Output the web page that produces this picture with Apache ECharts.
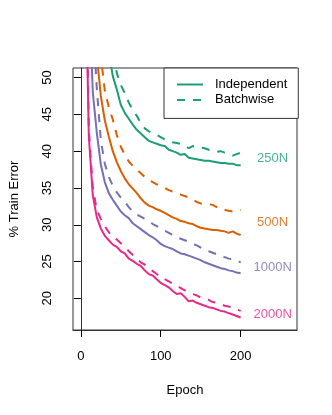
<!DOCTYPE html>
<html>
<head>
<meta charset="utf-8">
<script src="https://cdn.jsdelivr.net/npm/echarts@6/dist/echarts.min.js"></script>
<style>
  html, body { margin: 0; padding: 0; background: #fff; }
  #chart { width: 332px; height: 415px; }
</style>
</head>
<body>
<div id="chart"></div>
<script>
// epochs shared by all curves
var epochs = [5, 10, 15, 20, 25, 30, 35, 40, 45, 50, 55, 60, 65, 70, 75, 80, 85, 90, 95, 100,
  105, 110, 115, 120, 125, 130, 135, 140, 145, 150, 155, 160, 165, 170, 175, 180, 185, 190, 195, 200]

var indep250 = [130, 110, 95, 80, 68, 60, 53.5, 50.2, 48.4, 46.3, 45.2, 44.4, 43.6, 42.9, 42.4, 41.9, 41.4, 41.2, 41.0, 40.8,
  40.7, 40.2, 40.0, 39.8, 39.5, 39.6, 39.1, 39.0, 38.9, 38.8, 38.7, 38.7, 38.6, 38.5, 38.4, 38.4, 38.3, 38.3, 38.1, 38.1]
var batch250 = [140, 120, 105, 90, 78, 68, 60, 54, 50.6, 49.0, 47.9, 46.6, 45.6, 44.8, 43.8, 43.1, 42.7, 42.4, 42.2, 41.9,
  41.6, 41.4, 41.2, 41.1, 41.0, 40.8, 40.4, 40.7, 40.5, 40.5, 40.4, 40.2, 40.0, 39.9, 40.0, 39.8, 39.7, 39.4, 39.6, 39.8]
var indep500 = [100, 85, 68, 53, 47.5, 44.2, 42.0, 40.0, 38.5, 37.3, 36.3, 35.5, 34.9, 34.3, 33.6, 33.0, 32.6, 32.4, 32.1, 31.9,
  31.6, 31.3, 31.0, 30.8, 30.5, 30.4, 30.2, 30.1, 29.8, 29.6, 29.5, 29.4, 29.3, 29.3, 29.2, 29.1, 28.9, 29.1, 28.8, 28.6]
var batch500 = [110, 90, 75, 62, 53, 48.2, 46.0, 44.3, 42.2, 40.6, 39.5, 38.6, 38.0, 37.5, 37.0, 36.5, 36.1, 35.8, 35.5, 35.2,
  35.0, 34.7, 34.5, 34.3, 34.1, 33.9, 33.7, 33.4, 33.1, 32.9, 32.8, 32.8, 32.7, 32.4, 32.1, 32.0, 31.9, 31.8, 31.8, 32.0]
var indep1000 = [90, 62, 48, 42.5, 38.2, 35.8, 34.3, 33.4, 32.6, 31.8, 31.3, 30.9, 30.2, 29.8, 29.4, 29.0, 28.6, 28.3, 27.9, 27.4,
  27.1, 26.9, 26.7, 26.4, 26.1, 26.0, 25.8, 25.6, 25.4, 25.2, 24.9, 24.7, 24.5, 24.3, 24.1, 24.0, 23.8, 23.7, 23.5, 23.4]
var batch1000 = [95, 75, 58, 48.5, 41.5, 38.3, 36.5, 35.3, 34.4, 33.7, 33.1, 32.4, 31.8, 31.4, 31.1, 30.8, 30.5, 30.1, 29.8, 29.5,
  29.2, 28.9, 28.6, 28.3, 28.1, 27.9, 27.7, 27.4, 27.2, 26.9, 26.6, 26.4, 26.2, 26.0, 25.8, 25.6, 25.4, 25.3, 25.1, 24.9]
var indep2000 = [70, 42, 34, 31, 29.5, 28.5, 27.9, 27.3, 27.0, 26.4, 26.1, 25.4, 25.1, 24.7, 24.4, 23.8, 23.3, 23.1, 22.6, 22.1,
  21.8, 21.5, 21.0, 20.6, 20.7, 20.2, 19.6, 19.7, 19.4, 19.2, 19.0, 18.8, 18.7, 18.5, 18.3, 18.2, 18.0, 17.8, 17.6, 17.4]
var batch2000 = [75, 43, 35, 32, 30.8, 29.8, 29.0, 28.3, 28.0, 27.5, 27.0, 26.4, 25.9, 25.4, 24.9, 24.6, 24.1, 23.7, 23.3, 22.8,
  22.6, 22.3, 22.0, 21.7, 21.4, 21.1, 20.9, 20.6, 20.4, 20.1, 20.0, 19.8, 19.5, 19.4, 19.2, 19.0, 18.9, 18.7, 18.5, 18.3]

var xTicks = [0, 100, 200]
var yTicks = [20, 25, 30, 35, 40, 45, 50]

var groupNames = ['250N', '500N', '1000N', '2000N']
var labelX = 240
var labelY = [38.95, 30.3, 24.15, 17.85]

var colors = ['#1B9E77', '#D95F02', '#7570B3', '#E7298A']
var font = 'Liberation Sans, Arial, Helvetica, sans-serif'

function pairs (ys) {
  return epochs.map(function (e, i) { return [e, ys[i]] })
}

function curve (name, ys, color, dashed) {
  return {
    name: name,
    type: 'line',
    data: pairs(ys),
    symbol: 'none',
    clip: true,
    lineStyle: {color: color, width: 2, type: dashed ? [8, 8] : 'solid'},
    itemStyle: {color: color}
  }
}

var series = [
  curve('Independent', indep250, colors[0], false),
  curve('Batchwise', batch250, colors[0], true),
  curve('500N Independent', indep500, colors[1], false),
  curve('500N Batchwise', batch500, colors[1], true),
  curve('1000N Independent', indep1000, colors[2], false),
  curve('1000N Batchwise', batch1000, colors[2], true),
  curve('2000N Independent', indep2000, colors[3], false),
  curve('2000N Batchwise', batch2000, colors[3], true)
]

groupNames.forEach(function (g, i) {
  series.push({
    name: g,
    type: 'scatter',
    symbolSize: 1,
    itemStyle: {color: 'rgba(0,0,0,0)'},
    data: [{value: [labelX, labelY[i]], name: g}],
    label: {
      show: true,
      position: 'inside',
      formatter: '{b}',
      color: colors[i],
      fontSize: 13,
      fontFamily: font
    },
    silent: true
  })
})

var chart = echarts.init(document.getElementById('chart'))
chart.setOption({
  animation: false,
  backgroundColor: '#fff',
  grid: {left: 68, top: 68, right: 35, bottom: 85, show: true, borderColor: '#333', borderWidth: 1},
  legend: {
    data: ['Independent', 'Batchwise'],
    orient: 'vertical',
    left: 164,
    top: 68,
    padding: [10, 11, 12, 12],
    itemWidth: 26,
    itemHeight: 14,
    itemGap: 2.4,
    borderColor: '#333',
    borderWidth: 1,
    backgroundColor: '#fff',
    itemStyle: {opacity: 0},
    textStyle: {fontSize: 13, fontFamily: font, color: '#000', padding: [0, 0, 0, 7]}
  },
  xAxis: {
    type: 'value',
    min: -9.8,
    max: 270.5,
    name: 'Epoch',
    nameLocation: 'middle',
    nameGap: 54,
    nameTextStyle: {fontSize: 13, fontFamily: font, color: '#000'},
    axisLine: {show: true, lineStyle: {color: '#333'}},
    axisTick: {show: true, length: 7, lineStyle: {color: '#000'}, customValues: xTicks},
    axisLabel: {fontSize: 13, fontFamily: font, color: '#000', margin: 20, customValues: xTicks},
    splitLine: {show: false}
  },
  yAxis: {
    type: 'value',
    min: 15.7,
    max: 51.3,
    name: '% Train Error',
    nameLocation: 'middle',
    nameRotate: 90,
    nameGap: 52,
    nameTextStyle: {fontSize: 13, fontFamily: font, color: '#000'},
    axisLine: {show: true, lineStyle: {color: '#333'}},
    axisTick: {show: true, length: 7, lineStyle: {color: '#000'}, customValues: yTicks},
    axisLabel: {fontSize: 13, fontFamily: font, color: '#000', margin: 19, rotate: 90, customValues: yTicks},
    splitLine: {show: false}
  },
  series: series
})
</script>
</body>
</html>
